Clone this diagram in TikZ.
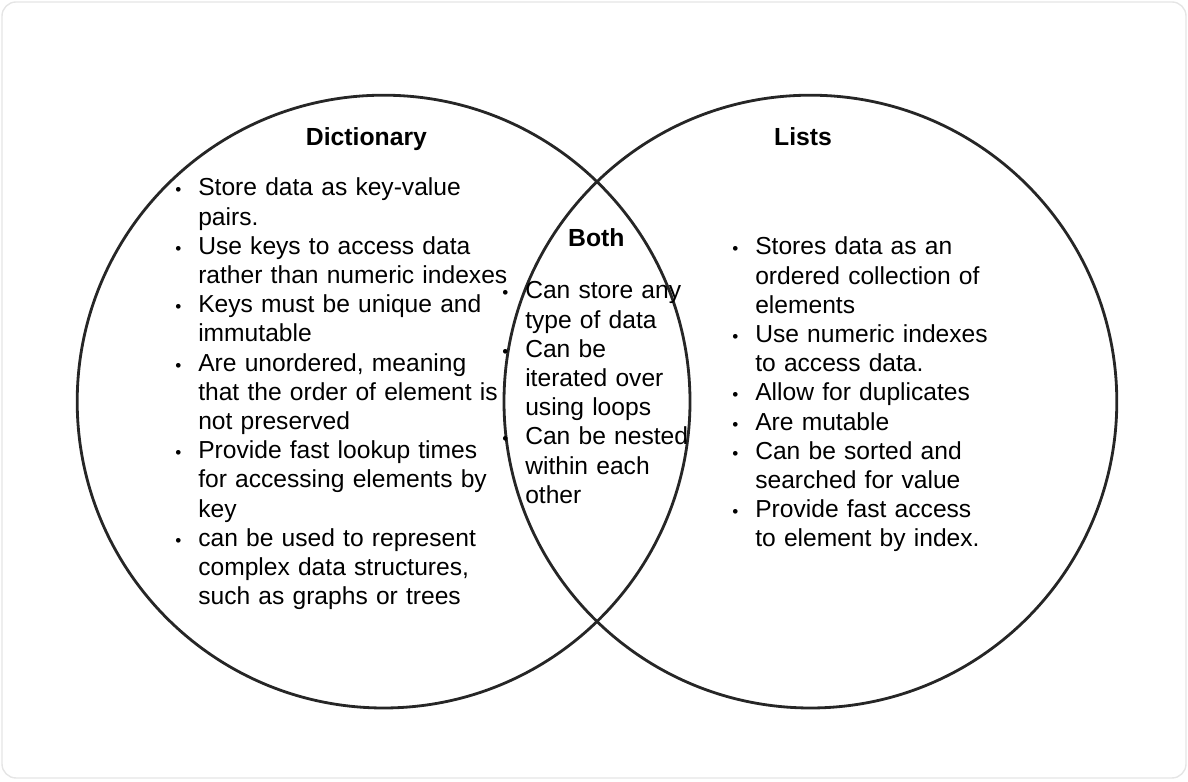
\documentclass[tikz,border=0pt]{standalone}
\usepackage{fontspec}
\setmainfont{Liberation Sans}
\definecolor{RingClr}{rgb}{0.15,0.15,0.15}
\definecolor{FrameClr}{rgb}{0.9,0.9,0.9}
\newcommand{\bul}{\leavevmode\llap{\makebox[0pt][c]{\scalebox{0.7}{\textbullet}}\hspace{14.2pt}}}

\begin{document}
\begin{tikzpicture}[ring/.style={line width=2pt,color=RingClr},
  title/.style={anchor=base,inner sep=0pt,font=\fontsize{17.6}{20.77}\selectfont\bfseries},
  items/.style={anchor=base west,inner sep=0pt,text width=9cm,align=left,font=\fontsize{17.5}{20.77}\selectfont}]
\useasboundingbox (0,0) rectangle (29.7,19.55);
\draw[FrameClr,line width=1pt,rounded corners=10pt] (0.05,0.1) rectangle (29.65,19.5);

\coordinate (D) at (9.59,9.51);
\coordinate (L) at (20.26,9.51);
\draw[ring] (D) circle (7.66);
\draw[ring] (L) circle (7.66);

\node[title] (dictT) at (9.16,15.9) {Dictionary};
\node[title] (listT) at (20.075,15.9) {Lists};
\node[title] (bothT) at (14.91,13.375) {Both};

\node[items] (dictI) at (4.95,14.65) {\bul Store data as key-value\\ pairs.\\
  \bul Use keys to access data\\ rather than numeric indexes\\
  \bul Keys must be unique and\\ immutable\\
  \bul Are unordered, meaning\\ that the order of element is\\ not preserved\\
  \bul Provide fast lookup times\\ for accessing elements by\\ key\\
  \bul can be used to represent\\ complex data structures,\\ such as graphs or trees};
\node[items] (bothI) at (13.125,12.075) {\bul Can store any\\ type of data\\
  \bul Can be\\ iterated over\\ using loops\\
  \bul Can be nested\\ within each\\ other};
\node[items] (listI) at (18.875,13.175) {\bul Stores data as an\\ ordered collection of\\ elements\\
  \bul Use numeric indexes\\ to access data.\\
  \bul Allow for duplicates\\
  \bul Are mutable\\
  \bul Can be sorted and\\ searched for value\\
  \bul Provide fast access\\ to element by index.};
\end{tikzpicture}
\end{document}
